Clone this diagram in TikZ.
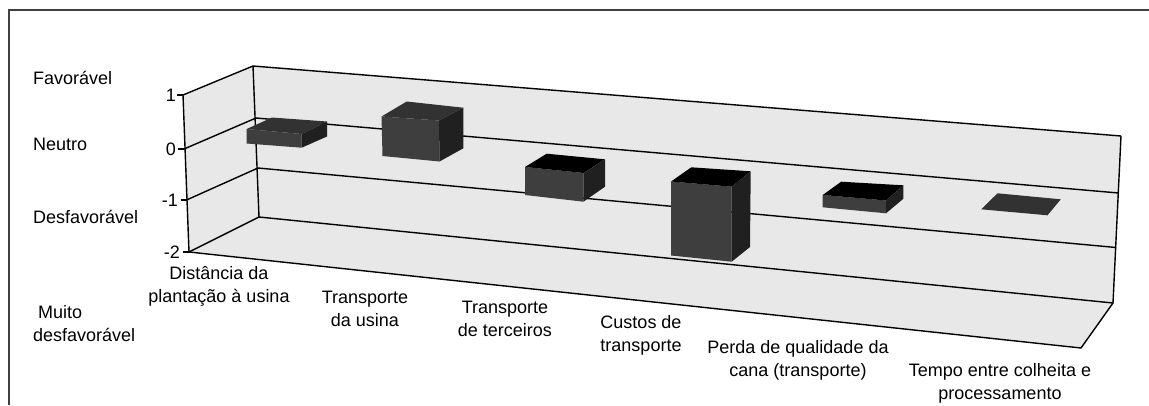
\documentclass[tikz,border=0pt]{standalone}
\usepackage{fontspec}
\setmainfont{Liberation Sans}
\usepackage{tikz}

\definecolor{wallgray}{HTML}{E8E8E8}
\definecolor{barfront}{HTML}{3E3E3E}
\definecolor{barside}{HTML}{202020}
\definecolor{bartop}{HTML}{323232}

\begin{document}
\begin{tikzpicture}[x=1pt,y=-1pt,
	wall/.style={fill=wallgray},
	edge/.style={line width=1.4pt,line join=round},
	frontface/.style={fill=barfront},
	sideface/.style={fill=barside},
	topface/.style={fill=bartop},
	holeface/.style={fill=black},
	lab/.style={font=\fontsize{18}{23}\selectfont,align=center,inner sep=0pt}]
	\useasboundingbox (0,0) rectangle (1149,405) ;
	% outer frame
	\draw [line width=1.3pt,black!75] (9,405) -- (9,10) -- (1149,10) ;
	% walls and floor
	\fill [wall] (183,95) -- (253,66) -- (259,217) -- (189,252) -- cycle ;
	\fill [wall] (253,66) -- (1121,136) -- (1113,303) -- (259,217) -- cycle ;
	\fill [wall] (189,252) -- (259,217) -- (1113,303) -- (1081,348) -- cycle ;
	% grid lines
	\draw [edge] (183,95) -- (253,66) -- (1121,136) ;
	\draw [edge] (184,149) -- (256,118) -- (1118.5,193) ;
	\draw [edge] (186.5,200) -- (258,168) -- (1116,247.5) ;
	\draw [edge] (189,252) -- (259,217) -- (1113,303) ;
	\draw [edge] (253,66) -- (259,217) ;
	\draw [edge] (1121,136) -- (1113,303) -- (1081,348) -- (189,252) ;
	% bars
	\fill [frontface] (246.7,129) -- (301.7,134) -- (301.7,147.7) -- (246.7,143.5) -- cycle ;
	\fill [topface] (246.7,129) -- (272,117.5) -- (327,121.5) -- (301.7,134) -- cycle ;
	\fill [sideface] (301.7,134) -- (327,121.5) -- (327,136.5) -- (301.7,147.7) -- cycle ;
	\fill [frontface] (381.5,116.5) -- (439,120.5) -- (439.5,161.5) -- (382.5,156) -- cycle ;
	\fill [topface] (381.5,116.5) -- (406.7,101.5) -- (463.3,107.7) -- (439,120.5) -- cycle ;
	\fill [sideface] (439,120.5) -- (463.3,107.7) -- (463.3,148.3) -- (439.5,161.5) -- cycle ;
	\fill [frontface] (525,167) -- (583.5,173) -- (583.5,201.7) -- (525,195) -- cycle ;
	\fill [holeface] (525,167) -- (546.7,153.7) -- (605,159.3) -- (583.5,173) -- cycle ;
	\fill [sideface] (583.5,173) -- (605,159.3) -- (605,186.7) -- (583.5,201.7) -- cycle ;
	\fill [frontface] (671,181.5) -- (731.7,186.7) -- (731.7,261.7) -- (671,255.5) -- cycle ;
	\fill [holeface] (671,181.5) -- (691.3,167.3) -- (750.7,171.3) -- (731.7,186.7) -- cycle ;
	\fill [sideface] (731.7,186.7) -- (750.7,171.3) -- (750,247) -- (731.7,261.7) -- cycle ;
	\fill [frontface] (822.7,195) -- (886,200.5) -- (886,213.3) -- (822.7,207.3) -- cycle ;
	\fill [holeface] (822.7,195) -- (841.2,181.7) -- (903.3,185.3) -- (886,200.5) -- cycle ;
	\fill [sideface] (886,200.5) -- (903.3,185.3) -- (903.3,198.8) -- (886,213.3) -- cycle ;
	\fill [topface] (981.2,209.3) -- (997.5,193.3) -- (1060.8,199.3) -- (1047.5,215.3) -- cycle ;
	% value axis
	\draw [edge] (183,95) -- (189,252) ;
	\draw [edge] (177,95) -- (183,95) ;
	\draw [edge] (178,149) -- (184,149) ;
	\draw [edge] (180.5,200) -- (186.5,200) ;
	\draw [edge] (183,252) -- (189,252) ;
	\node [lab,anchor=east] (t1) at (176,95) {1} ;
	\node [lab,anchor=east] (t0) at (176,149) {0} ;
	\node [lab,anchor=east] (tm1) at (178,200) {-1} ;
	\node [lab,anchor=east] (tm2) at (180,252) {-2} ;
	% scale labels
	\node [lab,anchor=west,align=left] (fav) at (33,78) {Favorável} ;
	\node [lab,anchor=west,align=left] (neu) at (33,144) {Neutro} ;
	\node [lab,anchor=west,align=left] (des) at (33,217) {Desfavorável} ;
	\node [lab,anchor=west,align=left] (mdes) at (33,324) {\hspace{5pt}Muito\\desfavorável} ;
	% category labels
	\node [lab] (c1) at (219,286) {Distância da\\plantação à usina} ;
	\node [lab] (c2) at (365,309) {Transporte\\da usina} ;
	\node [lab] (c3) at (505,319) {Transporte\\de terceiros} ;
	\node [lab] (c4) at (641,335) {Custos de\\transporte} ;
	\node [lab] (c5) at (798,360) {Perda de qualidade da\\cana (transporte)} ;
	\node [lab] (c6) at (1000,383) {Tempo entre colheita e\\processamento} ;
\end{tikzpicture}
\end{document}
